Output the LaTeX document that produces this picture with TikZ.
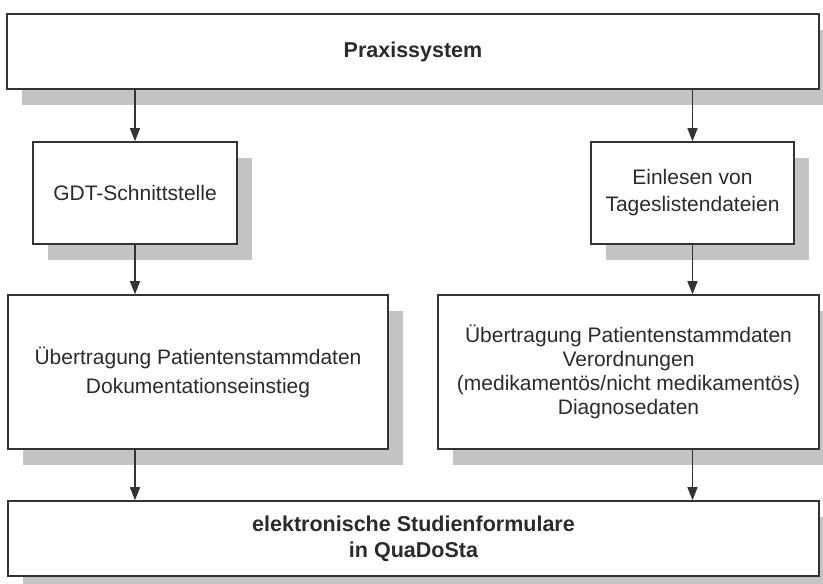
\documentclass[tikz,border=0pt]{standalone}
\usepackage{fontspec}
\setmainfont{Liberation Sans}
\usetikzlibrary{arrows.meta,shadows}
\definecolor{linegray}{HTML}{333333}
\definecolor{textgray}{HTML}{2B2B2B}
\definecolor{shadowgray}{HTML}{C4C4C4}
\tikzset{
  box/.style={draw=linegray, line width=1.6pt, fill=white, inner sep=0pt,
    align=center, text=textgray,
    drop shadow={shadow xshift=15pt, shadow yshift=-16pt, fill=shadowgray, opacity=1}},
  flow/.style={draw=linegray, line width=1.5pt,
    -{Triangle[length=13pt,width=10pt]}},
  txt/.style={font=\fontsize{21}{24}\selectfont},
  btxt/.style={font=\fontsize{21.5}{26}\selectfont\bfseries}
}
\begin{document}
\begin{tikzpicture}[x=1pt,y=-1pt]
  \useasboundingbox (0,0) rectangle (823,584);
  \clip (0,0) rectangle (823,584);

  % boxes: centre at midpoint of corners, size from corners
  \node[box, btxt, minimum width=812pt, minimum height=75pt] (top) at (413,51.5) {Praxissystem};
  \node[box, txt, minimum width=204pt, minimum height=102pt] (gdt) at (135,193) {GDT-Schnittstelle};
  \node[box, txt, minimum width=203pt, minimum height=102pt, font=\fontsize{21}{27}\selectfont] (ein) at (692.5,193) {Einlesen von\\Tageslistendateien};
  \node[box, txt, minimum width=380pt, minimum height=154pt, font=\fontsize{21}{29}\selectfont] (ml) at (198,372) {Übertragung Patientenstammdaten\\Dokumentationseinstieg};
  \node[box, txt, minimum width=381pt, minimum height=154pt] (mr) at (628.5,372) {Übertragung Patientenstammdaten\\Verordnungen\\(medikamentös/nicht medikamentös)\\Diagnosedaten};
  \node[box, btxt, minimum width=811pt, minimum height=75pt] (bot) at (413.5,538.5) {elektronische Studienformulare\\in QuaDoSta};

  % connectors
  \draw[flow] (top.south -| gdt.north) -- (gdt.north);
  \draw[flow] (top.south -| ein.north) -- (ein.north);
  \draw[flow] (gdt.south) -- (gdt.south |- ml.north);
  \draw[flow] (ein.south) -- (ein.south |- mr.north);
  \draw[flow] (gdt.south |- ml.south) -- (gdt.south |- bot.north);
  \draw[flow] (ein.south |- mr.south) -- (ein.south |- bot.north);
\end{tikzpicture}
\end{document}
